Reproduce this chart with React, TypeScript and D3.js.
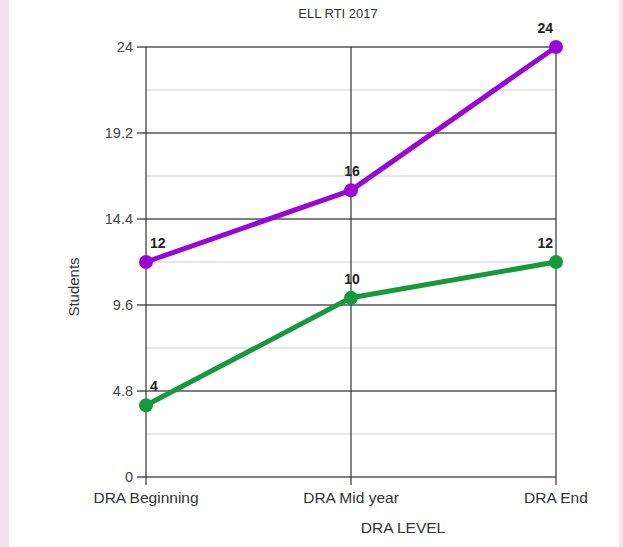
import React from "react";
import * as d3 from "d3";

const categories = ["DRA Beginning", "DRA Mid year", "DRA End"];
const purpleValues = [12, 16, 24];
const greenValues = [4, 10, 12];
const yTicks = [0, 4.8, 9.6, 14.4, 19.2, 24];
const yMinorTicks = [2.4, 7.2, 12, 16.8, 21.6];

const W = 623;
const H = 547;
const left = 146;
const right = 556;
const top = 47;
const bottom = 477;

export default function App() {
  const x = d3.scalePoint<string>().domain(categories).range([left, right]);
  const y = d3.scaleLinear().domain([0, 24]).range([bottom, top]);
  const line = d3
    .line<number>()
    .x((_, i) => x(categories[i]) as number)
    .y((d) => y(d));

  const series = [
    { values: purpleValues, color: "#9a06d6" },
    { values: greenValues, color: "#16993a" },
  ];

  const last = categories.length - 1;
  const labelDx = (i: number) => (i === 0 ? 4 : i === last ? -3 : 1);
  const labelAnchor = (i: number) => (i === 0 ? "start" : i === last ? "end" : "middle");

  return (
    <svg
      width={W}
      height={H}
      style={{ position: "absolute", left: 0, top: 0, background: "#fff" }}
      fontFamily="Liberation Sans, Arial, sans-serif"
    >
      <rect x={0} y={0} width={9} height={H} fill="#f1e1f1" />
      <rect x={619} y={0} width={4} height={H} fill="#f3e3f3" />

      {yMinorTicks.map((t) => (
        <line key={"m" + t} x1={left} x2={right} y1={y(t)} y2={y(t)} stroke="#cfcfcf" strokeWidth={1.2} />
      ))}
      {yTicks.map((t) => (
        <g key={"t" + t}>
          <line x1={left - 9} x2={right} y1={y(t)} y2={y(t)} stroke="#555" strokeWidth={1.3} />
          <text x={left - 13} y={y(t)} dy="0.35em" textAnchor="end" fontSize={14.5} fill="#444">
            {t}
          </text>
        </g>
      ))}
      {categories.map((c) => (
        <g key={c}>
          <line x1={x(c)} x2={x(c)} y1={top} y2={bottom + 8} stroke="#333" strokeWidth={1.2} />
          <text x={x(c)} y={bottom + 26} textAnchor="middle" fontSize={15.5} fill="#333">
            {c}
          </text>
        </g>
      ))}

      {series.map((s, si) => (
        <g key={si}>
          <path d={line(s.values) || ""} fill="none" stroke={s.color} strokeWidth={5} strokeLinejoin="round" />
          {s.values.map((v, i) => (
            <circle key={i} cx={x(categories[i])} cy={y(v)} r={7} fill={s.color} />
          ))}
          {s.values.map((v, i) => (
            <text
              key={"l" + i}
              x={(x(categories[i]) as number) + labelDx(i)}
              y={y(v) - 14}
              textAnchor={labelAnchor(i)}
              fontSize={14}
              fontWeight="bold"
              fill="#222"
            >
              {v}
            </text>
          ))}
        </g>
      ))}

      <text x={338} y={18} textAnchor="middle" fontSize={13} fill="#333">
        ELL RTI 2017
      </text>
      <text
        transform={`translate(79, 287) rotate(-90)`}
        textAnchor="middle"
        fontSize={15}
        fill="#333"
      >
        Students
      </text>
      <text x={403} y={533} textAnchor="middle" fontSize={15.5} fill="#333">
        DRA LEVEL
      </text>
    </svg>
  );
}
